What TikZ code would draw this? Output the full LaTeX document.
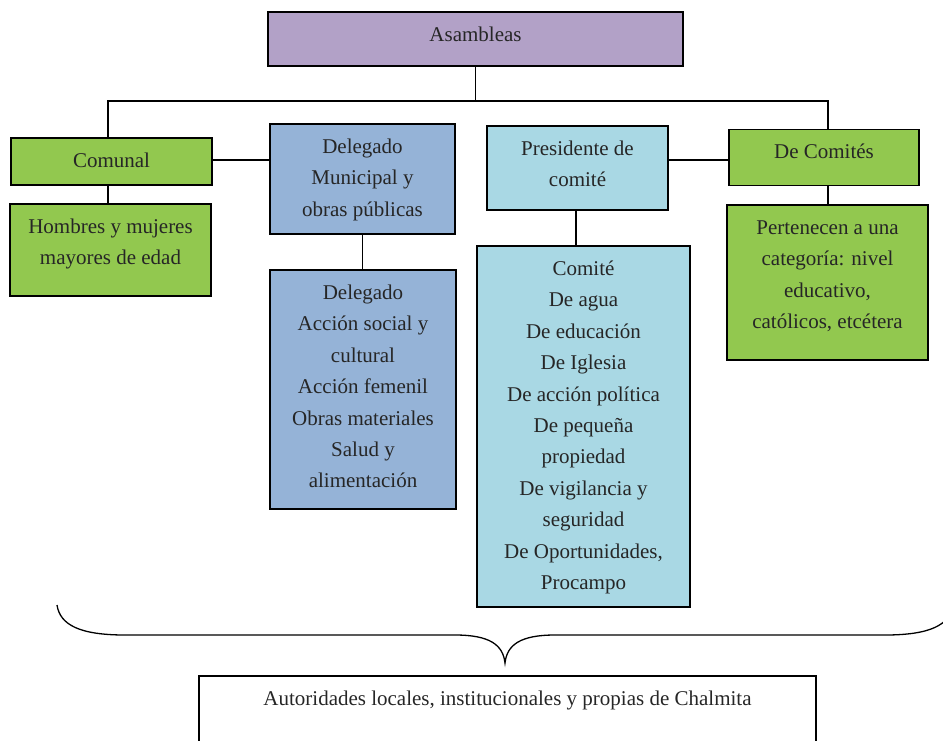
\documentclass[tikz,border=0pt]{standalone}
\usepackage{fontspec}
\setmainfont{Liberation Serif}
\definecolor{cpurple}{HTML}{B2A1C7}
\definecolor{cgreen}{HTML}{92C84F}
\definecolor{cblue}{HTML}{95B3D7}
\definecolor{caqua}{HTML}{A9D8E4}
\definecolor{ctext}{HTML}{262626}
\newcommand{\fl}{\rule{0pt}{19pt}}
\begin{document}
\begin{tikzpicture}[x=1pt,y=-1pt,
  box/.style={draw=black,line width=1.6pt,inner sep=0pt,minimum width=#1},
  txt/.style={anchor=north,inner sep=0pt,align=center,text=ctext,font=\fontsize{21}{31.4}\selectfont,yshift=-11pt},
  conn/.style={draw=black,line width=1.8pt}]
\useasboundingbox (0,0) rectangle (943,740);
% boxes
\node[box=415pt,minimum height=54pt,fill=cpurple] (asm) at (475.5,39) {};
\node[box=201pt,minimum height=47pt,fill=cgreen] (comunal) at (111.5,161.5) {};
\node[box=201pt,minimum height=92pt,fill=cgreen] (hombres) at (110.5,250) {};
\node[box=185pt,minimum height=110pt,fill=cblue] (delmun) at (362.5,179) {};
\node[box=186pt,minimum height=239pt,fill=cblue] (dellist) at (363,389.5) {};
\node[box=181pt,minimum height=84pt,fill=caqua] (presid) at (577.5,168) {};
\node[box=213pt,minimum height=361pt,fill=caqua] (comite) at (583.5,426.5) {};
\node[box=190pt,minimum height=56pt,fill=cgreen] (decom) at (824,157.5) {};
\node[box=201pt,minimum height=155pt,fill=cgreen] (pert) at (827.5,282.5) {};
\node[box=617pt,minimum height=100pt] (aut) at (507.5,726) {};
% texts
\node[txt] (tasm) at (asm.north) {\fl Asambleas};
\node[txt] (tcom) at (comunal.north) {\fl Comunal};
\node[txt] (thom) at (hombres.north) {\fl Hombres y mujeres\\mayores de edad};
\node[txt] (tdm) at (delmun.north) {\fl Delegado\\Municipal y\\obras públicas};
\node[txt] (tdl) at (dellist.north) {\fl Delegado\\Acción social y\\cultural\\Acción femenil\\Obras materiales\\Salud y\\alimentación};
\node[txt] (tpre) at (presid.north) {\fl Presidente de\\comité};
\node[txt] (tcmt) at (comite.north) {\fl Comité\\De agua\\De educación\\De Iglesia\\De acción política\\De pequeña\\propiedad\\De vigilancia y\\seguridad\\De Oportunidades,\\Procampo};
\node[txt] (tdc) at (decom.north) {\fl De Comités};
\node[txt] (tper) at (pert.north) {\fl Pertenecen a una\\categoría: nivel\\educativo,\\católicos, etcétera};
\node[txt] (taut) at (aut.north) {\fl Autoridades locales, institucionales y propias de Chalmita};
% connectors
\coordinate (bus) at (475.5,101);
\draw[conn] (asm.south) -- (bus);
\draw[conn] (comunal.north -| 108,0) |- (bus) -| (decom.north -| 828,0);
\draw[conn] (comunal.east |- 0,160) -- (delmun.west |- 0,160);
\draw[conn] (presid.east |- 0,160) -- (decom.west |- 0,160);
\draw[conn] (comunal.south -| 108,0) -- (hombres.north -| 108,0);
\draw[conn] (delmun.south) -- (delmun.south |- dellist.north);
\draw[conn] (presid.south -| 576,0) -- (comite.north -| 576,0);
\draw[conn] (decom.south -| 828,0) -- (pert.north -| 828,0);
% brace
\draw[line width=1.3pt] (57,605) .. controls (60,625) and (80,635) .. (125,635) -- (455,635) .. controls (490,635) and (503,645) .. (505,663) .. controls (507,645) and (520,635) .. (555,635) -- (885,635) .. controls (930,635) and (950,625) .. (953,605);
\end{tikzpicture}
\end{document}
